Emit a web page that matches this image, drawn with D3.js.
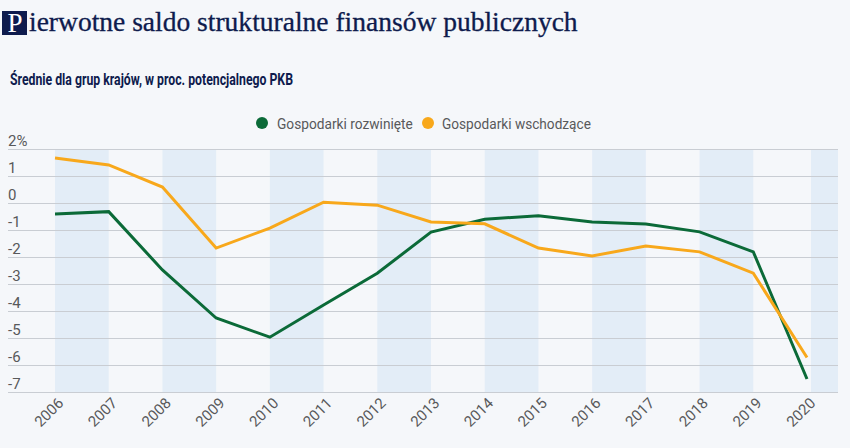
<!DOCTYPE html>
<html>
<head>
<meta charset="utf-8">
<script src="https://cdn.jsdelivr.net/npm/d3@7"></script>
<style>
  html, body { margin: 0; padding: 0; background: #f5f7fa; }
  svg { display: block; }
</style>
</head>
<body>
<svg id="chart" width="850" height="448"></svg>
<script>
const years = [2006, 2007, 2008, 2009, 2010, 2011, 2012, 2013, 2014, 2015, 2016, 2017, 2018, 2019, 2020];
const developed = [-0.41, -0.32, -2.48, -4.26, -4.97, -3.78, -2.6, -1.08, -0.6, -0.47, -0.7, -0.78, -1.07, -1.81, -6.52];
const emerging = [1.67, 1.41, 0.59, -1.67, -0.93, 0.03, -0.08, -0.7, -0.77, -1.67, -1.96, -1.59, -1.81, -2.6, -5.72];
const yTicks = [2, 1, 0, -1, -2, -3, -4, -5, -6, -7];
const seriesNames = ["Gospodarki rozwinięte", "Gospodarki wschodzące"];
const seriesColors = ["#0b6a38", "#f8a81b"];
const titleFirst = "P";
const titleRest = "ierwotne saldo strukturalne finansów publicznych";
const subtitle = "Średnie dla grup krajów, w proc. potencjalnego PKB";

const svg = d3.select("#chart");
const navy = "#0e1b4d";
const grey = "#58595b";

// place text at (x,y) and squeeze horizontally to width w
function placeFit(sel, px, py, w) {
  const L = sel.node().getComputedTextLength();
  const sx = L > 0 ? w / L : 1;
  sel.attr("x", 0).attr("y", 0).attr("transform", `translate(${px},${py}) scale(${sx},1)`);
  return sel;
}

// Title
svg.append("rect").attr("x", 2).attr("y", 11).attr("width", 25).attr("height", 24).attr("fill", navy);
svg.append("text").attr("x", 15).attr("y", 31.5).attr("text-anchor", "middle")
  .attr("font-family", "Liberation Serif, DejaVu Serif, serif").attr("font-size", 27)
  .attr("fill", "#ffffff").text(titleFirst);
placeFit(svg.append("text")
  .attr("font-family", "Liberation Serif, DejaVu Serif, serif").attr("font-size", 27)
  .attr("fill", navy).attr("stroke", navy).attr("stroke-width", 0.3).text(titleRest), 29, 30.5, 549);

// Subtitle
placeFit(svg.append("text")
  .attr("font-family", "Roboto, Noto Sans, sans-serif").attr("font-weight", 700).attr("font-size", 16)
  .attr("fill", navy).text(subtitle), 10, 85, 283);

// Legend
const legendPos = [{cx: 262, tx: 277, w: 136}, {cx: 428, tx: 442, w: 149}];
seriesNames.forEach((n, i) => {
  svg.append("circle").attr("cx", legendPos[i].cx).attr("cy", 123).attr("r", 6).attr("fill", seriesColors[i]);
  placeFit(svg.append("text")
    .attr("font-family", "Roboto, Noto Sans, sans-serif").attr("font-size", 15.5)
    .attr("fill", grey).text(n), legendPos[i].tx, 128.5, legendPos[i].w);
});

// Scales
const plotLeft = 8, plotRight = 838, plotTop = 149, plotBottom = 392;
const x = d3.scalePoint().domain(years).range([55, 807]);
const y = d3.scaleLinear().domain([-7, 2]).range([plotBottom, plotTop]);

// Bands
const bandG = svg.append("g");
years.forEach((yr, i) => {
  if (i % 2 === 0) {
    const x0 = i + 1 < years.length ? x(yr) : x(yr) + 4;
    const x1 = i + 1 < years.length ? x(years[i + 1]) : plotRight;
    bandG.append("rect").attr("x", x0).attr("y", plotTop).attr("width", x1 - x0)
      .attr("height", plotBottom - plotTop).attr("fill", "#e3edf7");
  }
});

// Y axis with gridlines
const yAxis = svg.append("g").attr("transform", `translate(${plotLeft},0)`)
  .call(d3.axisRight(y).tickValues(yTicks).tickSize(plotRight - plotLeft)
    .tickFormat(d => d === 2 ? "2%" : String(d)));
yAxis.select(".domain").remove();
yAxis.selectAll(".tick line").attr("stroke", "#c9cdd3").attr("stroke-width", 1.2);
yAxis.selectAll(".tick text").attr("x", 0).attr("dy", -4).attr("text-anchor", "start")
  .attr("font-family", "Roboto, Noto Sans, sans-serif").attr("font-size", 15).attr("fill", grey);

// X axis
const xAxis = svg.append("g").attr("transform", `translate(0,${plotBottom})`)
  .call(d3.axisBottom(x).tickSize(0).tickFormat(d => String(d)));
xAxis.select(".domain").remove();
xAxis.selectAll(".tick text").attr("x", 0).attr("y", 0).attr("dy", 0)
  .attr("transform", "translate(9,12) rotate(-45)").attr("text-anchor", "end")
  .attr("font-family", "Roboto, Noto Sans, sans-serif").attr("font-size", 15).attr("fill", grey);

// Lines
const line = d3.line().x((d, i) => x(years[i])).y(d => y(d));
[developed, emerging].forEach((s, i) => {
  svg.append("path").datum(s).attr("d", line).attr("fill", "none")
    .attr("stroke", seriesColors[i]).attr("stroke-width", 3).attr("stroke-linejoin", "miter");
});
</script>
</body>
</html>
